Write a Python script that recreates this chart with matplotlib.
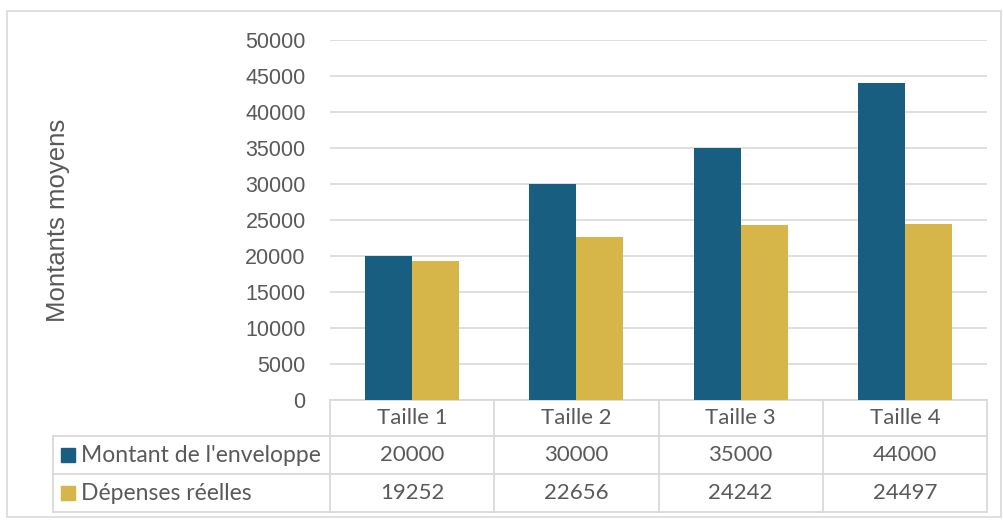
import numpy as np
import matplotlib
matplotlib.use("Agg")
import matplotlib.pyplot as plt
from matplotlib.patches import Rectangle
from matplotlib.lines import Line2D

categories = ["Taille 1", "Taille 2", "Taille 3", "Taille 4"]
enveloppe = [20000, 30000, 35000, 44000]
depenses = [19252, 22656, 24242, 24497]
series_names = ["Montant de l'enveloppe", "Dépenses réelles"]
yticks = [0, 5000, 10000, 15000, 20000, 25000, 30000, 35000, 40000, 45000, 50000]

blue = "#175E80"
gold = "#D6B648"
txt = "#595959"
grid_c = "#D9D9D9"

plt.rcParams["font.family"] = ["Liberation Sans", "DejaVu Sans"]
tab_font = ["Lato", "DejaVu Sans"]

W, H = 1004, 520
fig = plt.figure(figsize=(W / 100, H / 100), dpi=100)

# outer chart frame
fig.patches.append(Rectangle((7 / W, 3 / H), 994 / W, (H - 11 - 3) / H,
                             transform=fig.transFigure, fill=False,
                             edgecolor=grid_c, linewidth=1.2))

# plot area in pixels
x0, x1, ytop, ybot = 330, 987, 40, 400
ax = fig.add_axes([x0 / W, (H - ybot) / H, (x1 - x0) / W, (ybot - ytop) / H])
ax.set_xlim(-0.5, 3.5)
ax.set_ylim(0, 50000)
ax.set_yticks(yticks)
ax.set_yticklabels([str(v) for v in yticks])
ax.set_xticks([])
for s in ax.spines.values():
    s.set_visible(False)
ax.grid(axis="y", color=grid_c, linewidth=1.2)
ax.set_axisbelow(True)
ax.tick_params(axis="y", length=0, pad=17.5, labelsize=15.5, labelcolor=txt)

x = np.arange(len(categories))
bw = 47 / 164.25
ax.bar(x - bw / 2, enveloppe, bw, color=blue, zorder=3)
ax.bar(x + bw / 2, depenses, bw, color=gold, zorder=3)

fig.text(58 / W, 1 - 220 / H, "Montants moyens", rotation=90, ha="center",
         va="center", fontsize=18.5, color=txt)

# data table below the axes
ph = ybot - ytop
rows = [0, -36 / ph, -74 / ph, -112 / ph]
lab_left = (53 - x0) / (x1 - x0)
tr = ax.get_xaxis_transform()
ta = ax.transAxes
lk = dict(color=grid_c, linewidth=1.3, clip_on=False)

# horizontal lines
ax.add_line(Line2D([0, 1], [rows[0], rows[0]], transform=ta, **lk))
for r in rows[1:]:
    ax.add_line(Line2D([lab_left, 1], [r, r], transform=ta, **lk))
# vertical lines
for b in np.arange(-0.5, 4.0, 1.0):
    ax.add_line(Line2D([b, b], [rows[0], rows[-1]], transform=tr, **lk))
ax.add_line(Line2D([lab_left, lab_left], [rows[1], rows[-1]], transform=ta, **lk))

for i, c in enumerate(categories):
    ax.text(i, (rows[0] + rows[1]) / 2, c, transform=tr, ha="center",
            va="center", fontsize=16, color=txt, family=tab_font)
    ax.text(i, (rows[1] + rows[2]) / 2, str(enveloppe[i]), transform=tr,
            ha="center", va="center", fontsize=16, color=txt, family=tab_font)
    ax.text(i, (rows[2] + rows[3]) / 2, str(depenses[i]), transform=tr,
            ha="center", va="center", fontsize=16, color=txt, family=tab_font)

# legend keys in the table
kx = (61 - x0) / (x1 - x0)
kw = 14 / (x1 - x0)
kh = 14 / ph
for j, (name, col) in enumerate(zip(series_names, [blue, gold])):
    yc = (rows[j + 1] + rows[j + 2]) / 2
    ax.add_patch(Rectangle((kx, yc - kh / 2), kw, kh, transform=ta,
                           color=col, clip_on=False))
    ax.text((81 - x0) / (x1 - x0), yc, name, transform=ta, ha="left",
            va="center", fontsize=16.5, color=txt, family=tab_font)

fig.savefig("out.png", dpi=100)
